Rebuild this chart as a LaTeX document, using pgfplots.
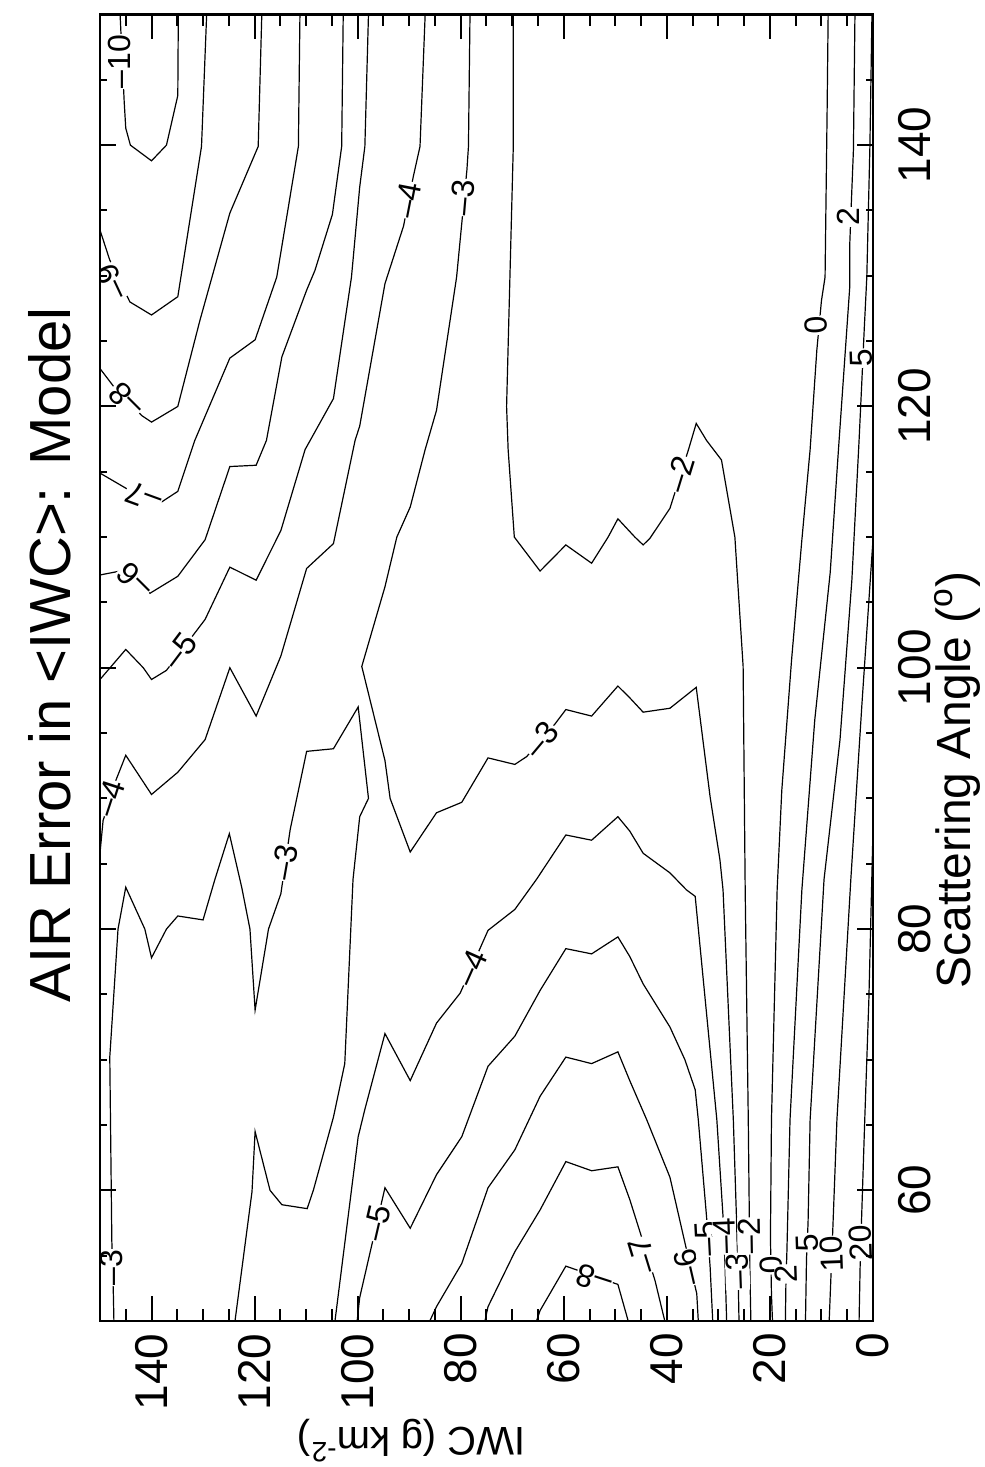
\documentclass[border=0pt]{standalone}
\usepackage{fontspec}
\setmainfont{Liberation Sans}
\usepackage{pgfplots}
\pgfplotsset{compat=1.18}
\tikzset{clab/.style={fill=white, inner sep=0.4pt, font=\fontsize{16}{16}\selectfont},
  cl/.style={black, solid, line width=0.6pt, mark=none}}
\begin{document}
\begin{tikzpicture}
\useasboundingbox (-50pt,-73pt) rectangle (442.5pt,660.5pt);
\begin{axis}[
  at={(0pt,0pt)}, anchor=south west,
  scale only axis, width=386.5pt, height=653.25pt,
  xmin=0, xmax=150, ymin=50, ymax=150,
  x dir=reverse,
  axis on top,
  axis line style={line width=1.3pt},
  xtick pos=both, ytick pos=both,
  xticklabel pos=lower, yticklabel pos=right,
  xtick={0,20,...,140}, ytick={60,80,...,140},
  minor xtick={5,10,15,25,30,35,45,50,55,65,70,75,85,90,95,105,110,115,125,130,135,145},
  minor ytick={55,65,70,75,85,90,95,105,110,115,125,130,135,145},
  tick align=inside,
  tick style={line width=1pt, black},
  xtick style={/pgfplots/major tick length=12.5pt,/pgfplots/minor tick length=6pt},
  ytick style={/pgfplots/major tick length=8pt,/pgfplots/minor tick length=3.5pt},
  /pgf/number format/assume math mode=true,
  xticklabel style={rotate=90, anchor=east, inner sep=0pt, font=\fontsize{23}{23}\selectfont},
  yticklabel style={rotate=90, anchor=north, inner sep=0pt, font=\fontsize{23}{23}\selectfont},
  xticklabel shift=6pt, yticklabel shift=12.5pt,
  title={AIR Error in <IWC>: Model},
  xlabel={IWC (g km\textsuperscript{-2})},
  ylabel={Scattering Angle (\textsuperscript{o})},
  every axis title/.style={at={(axis description cs:-0.0647,0.5098)}, rotate=90, anchor=center, font=\fontsize{29}{29}\selectfont},
  every axis x label/.style={at={(axis description cs:0.403,-0.0918)}, rotate=180, anchor=center, font=\fontsize{20}{20}\selectfont},
  every axis y label/.style={at={(axis description cs:1.1087,0.4141)}, rotate=90, anchor=center, font=\fontsize{24}{24}\selectfont},
]
% -10
\addplot[cl] coordinates {(146.1,150) (145.3,143.3) (145.0,141.3) (144.1,140.0) (140.0,138.8) (137.1,140.0) (134.9,143.8) (134.8,150)};
% -9
\addplot[cl] coordinates {(150,133.5) (148.1,131.2) (144.2,128.0) (140.0,127.0) (134.9,128.4) (130.3,139.9) (129.3,150)};
% -8 upper
\addplot[cl] coordinates {(150,122.9) (147.1,121.4) (141.9,119.3) (140.0,118.8) (134.9,120.0) (130.6,126.6) (124.8,134.8) (119.3,139.9) (118.6,150)};
% -7 upper
\addplot[cl] coordinates {(150,114.9) (144.8,113.7) (138.0,112.7) (134.9,113.5) (131.6,117.4) (124.8,123.7) (119.9,125.1) (115.7,129.9) (111.5,139.9) (111.2,150)};
% -6 upper
\addplot[cl] coordinates {(150,107.1) (144.8,107.5) (140.3,105.7) (134.9,107.0) (129.6,109.8) (124.8,115.4) (119.7,115.5) (117.7,117.4) (114.7,123.8) (109.9,128.9) (108.3,130.4) (104.9,134.7) (103.1,139.9) (102.8,150)};
% -5 upper
\addplot[cl] coordinates {(150,99.1) (145.0,101.4) (141.6,100.0) (140.0,99.1) (137.1,99.8) (129.6,103.7) (124.8,107.7) (119.7,106.7) (114.9,110.5) (110.2,116.7) (104.7,120.6) (101.2,129.9) (99.6,136.8) (98.6,139.9) (97.9,150)};
% -4 upper
\addplot[cl] coordinates {(150,85.8) (149.4,88.3) (147.1,91.2) (145.0,93.3) (140.0,90.3) (134.9,92.0) (129.6,94.5) (124.8,100.0) (119.7,96.3) (114.9,100.9) (109.9,107.6) (104.7,109.5) (100.5,117.4) (99.6,118.5) (94.7,129.4) (91.1,133.8) (89.2,137.6) (87.9,139.9) (86.9,150)};
% -3 (left loop)
\addplot[cl] coordinates {(147.3,50) (147.4,52.0) (147.7,56.1) (148.1,70.2) (146.5,80.0) (145.0,83.2) (141.3,80.0) (140.0,77.8) (137.1,80.0) (134.9,81.0) (130.0,80.7) (127.7,83.8) (124.9,87.3) (122.5,83.2) (120.9,80.0) (119.9,73.8) (117.3,80.0) (114.9,82.7) (113.1,87.6) (109.9,93.6) (104.7,93.8) (99.9,97.0) (97.9,90.0) (99.6,88.6) (100.9,83.8) (102.5,69.7) (104.7,65.6) (108.6,60.0) (109.8,58.6) (114.7,58.9) (117.0,60.0) (119.9,64.5) (120.5,59.9) (123.8,50)};
% -3 (long)
\addplot[cl] coordinates {(78.2,150) (78.5,139.9) (78.8,138.1) (79.8,134.0) (80.8,129.9) (84.7,119.7) (86.9,116.7) (89.8,112.3) (92.4,110.0) (94.7,106.2) (99.2,100.1) (94.7,92.9) (93.7,90.0) (89.8,85.9) (84.7,88.9) (79.8,89.7) (74.7,93.1) (69.5,92.6) (67.2,93.2) (61.7,95.7) (59.6,96.8) (54.6,96.3) (49.5,98.6) (47.2,97.7) (44.6,96.6) (39.4,96.9) (34.3,98.5) (31.6,90.1) (29.7,85.3) (29.1,83.0) (27.1,65.4) (26.5,58.0) (26.1,52.1) (26.0,50)};
% -2
\addplot[cl] coordinates {(69.8,150) (69.8,139.9) (71.1,120.0) (70.8,116.7) (69.6,110.0) (64.6,107.4) (59.6,109.4) (54.6,108.0) (51.4,110.0) (49.5,111.4) (46.2,110.0) (44.6,109.4) (43.3,109.9) (39.4,112.2) (35.8,116.7) (34.3,118.7) (32.3,117.4) (29.4,115.9) (26.8,110.0) (25.2,100.1) (24.8,83.0) (24.2,65.4) (24.0,58.0) (23.9,54.1) (23.7,50)};
% 0
\addplot[cl] coordinates {(8.7,150) (8.9,142.7) (9.3,129.9) (10.0,128.1) (10.9,124.3) (12.2,116.7) (13.8,109.8) (15.8,100.6) (17.7,90.6) (18.6,83.0) (19.7,65.4) (19.9,56.4) (19.7,52.0) (19.5,50)};
% 2
\addplot[cl] coordinates {(3.5,150) (3.8,139.6) (4.1,136.6) (4.5,132.5) (4.5,129.2) (6.7,116.7) (8.3,107.3) (11.3,96.0) (13.8,83.0) (16.1,65.4) (16.7,55.4) (16.9,52.8) (17.0,50)};
% 5
\addplot[cl] coordinates {(0.2,150) (0.6,139.9) (1.2,129.9) (1.7,125.9) (2.2,121.6) (2.7,117.4) (4.1,106.7) (6.4,94.5) (9.5,83.8) (12.2,65.4) (12.6,57.5) (12.9,54.8) (13.1,50)};
% 10
\addplot[cl] coordinates {(0,109.8) (2.1,97.5) (4.3,83.8) (7.0,65.4) (7.8,57.0) (8.2,53.0) (8.5,50)};
% 20
\addplot[cl] coordinates {(0,87.6) (0.8,74.6) (1.6,65.4) (2.2,58.0) (2.5,54.1) (2.7,50)};
% -5 lower
\addplot[cl] coordinates {(100.1,50) (99.6,51.8) (94.7,60.2) (89.8,57.1) (84.7,61.2) (79.8,64.1) (74.7,69.5) (69.5,71.8) (64.6,75.3) (59.6,78.5) (54.6,78.1) (49.5,79.4) (47.2,77.9) (44.6,75.8) (39.4,72.5) (36.5,70.0) (34.5,67.7) (33.9,65.4) (32.3,58.0) (31.6,54.1) (31.1,50)};
% -4 lower
\addplot[cl] coordinates {(104.4,50) (99.9,64.1) (98.6,66.2) (94.7,72.0) (89.8,68.4) (84.7,72.8) (80.1,75.1) (74.7,79.9) (69.5,81.5) (65.3,83.8) (59.6,87.2) (54.6,86.8) (49.5,88.6) (47.2,87.5) (44.6,85.8) (39.4,84.3) (36.2,83.0) (34.5,82.5) (30.3,65.4) (29.1,58.0) (28.7,54.1) (28.4,50)};
% -6 lower
\addplot[cl] coordinates {(86.0,50) (84.7,51.1) (79.8,54.4) (74.7,60.2) (69.5,63.1) (64.6,67.2) (59.6,70.2) (54.6,69.7) (49.5,70.6) (47.2,68.4) (43.9,65.4) (39.4,61.0) (36.5,56.0) (34.2,52.1) (33.9,50)};
% -7 lower
\addplot[cl] coordinates {(75.3,50) (74.7,51.1) (69.5,55.3) (64.6,58.5) (59.6,62.2) (54.6,61.5) (49.5,61.8) (47.2,59.3) (45.2,56.8) (42.3,53.1) (40.4,50)};
% -8 lower
\addplot[cl] coordinates {(65.3,50) (64.6,50.8) (59.6,54.2) (49.5,52.8) (47.5,50)};
% contour labels
\node[clab, rotate=90]  at (axis cs:146.3,146.4) {–10};
\node[clab, rotate=115] at (axis cs:147.7,129.5) {–9};
\node[clab, rotate=135] at (axis cs:144.9,120.5) {–8};
\node[clab, rotate=160] at (axis cs:141.5,113.1) {–7};
\node[clab, rotate=135] at (axis cs:143.2,106.7) {–6};
\node[clab, rotate=53]  at (axis cs:134.5,101.3) {–5};
\node[clab, rotate=72]  at (axis cs:148.1,90.0) {–4};
\node[clab, rotate=79]  at (axis cs:90.2,135.8) {–4};
\node[clab, rotate=85]  at (axis cs:79.6,136.0) {–3};
\node[clab, rotate=80]  at (axis cs:114.1,85.1) {–3};
\node[clab, rotate=90]  at (axis cs:147.7,54.1) {–3};
\node[clab, rotate=50]  at (axis cs:64.4,94.5) {–3};
\node[clab, rotate=73]  at (axis cs:37.4,114.8) {–2};
\node[clab, rotate=93]  at (axis cs:11.1,126.2) {0};
\node[clab, rotate=90]  at (axis cs:4.7,134.5) {2};
\node[clab, rotate=92]  at (axis cs:2.3,123.7) {5};
\node[clab, rotate=77]  at (axis cs:96.3,57.5) {–5};
\node[clab, rotate=66]  at (axis cs:78.0,77.0) {–4};
\node[clab, rotate=162] at (axis cs:54.1,53.2) {–8};
\node[clab, rotate=107] at (axis cs:44.6,55.0) {–7};
\node[clab, rotate=103] at (axis cs:35.9,54.1) {–6};
\node[clab, rotate=93]  at (axis cs:32.2,56.3) {–5};
\node[clab, rotate=92]  at (axis cs:28.9,56.5) {–4};
\node[clab, rotate=92]  at (axis cs:26.3,53.8) {–3};
\node[clab, rotate=91]  at (axis cs:24.0,56.5) {–2};
\node[clab, rotate=92]  at (axis cs:19.8,54.3) {0};
\node[clab, rotate=92]  at (axis cs:16.8,53.6) {2};
\node[clab, rotate=92]  at (axis cs:12.7,56.0) {5};
\node[clab, rotate=92]  at (axis cs:8.05,55.1) {10};
\node[clab, rotate=92]  at (axis cs:2.4,56.0) {20};
\end{axis}
\end{tikzpicture}
\end{document}
